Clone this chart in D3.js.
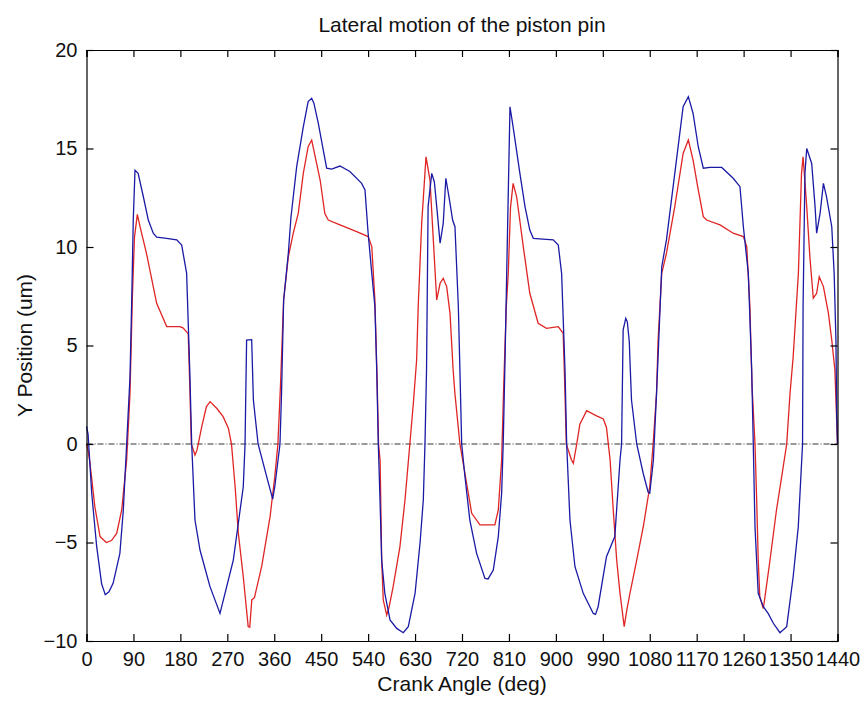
<!DOCTYPE html>
<html>
<head>
<meta charset="utf-8">
<script src="https://cdn.jsdelivr.net/npm/d3@7"></script>
<style>
  html, body { margin: 0; padding: 0; background: #fff; }
  svg { display: block; font-family: "Liberation Sans", Arial, Helvetica, sans-serif; }
</style>
</head>
<body>
<svg id="chart" width="864" height="702"></svg>
<script>
// ---- data ----
const titleText = "Lateral motion of the piston pin";
const xLabel = "Crank Angle (deg)";
const yLabel = "Y Position (um)";
const xTicks = [0, 90, 180, 270, 360, 450, 540, 630, 720, 810, 900, 990, 1080, 1170, 1260, 1350, 1440];
const yTicks = [-10, -5, 0, 5, 10, 15, 20];

const blueAngle = [0,3,10,19.5,29,36,43,51,64,70.6,77,83.4,86.6,89.7,93,99,109,118.5,128,134.5,150,173,182.5,192,198,201.7,208,217.6,236.8,256,281.5,300.6,304,307,316.7,320,329,345.5,357,361,371,374,378,387,392,403,415.7,425,431.8,436,444.5,454,460.5,470,486,505,527.6,534,540,547,553,556.5,559.5,562.8,566,572,582,594.8,607.4,617,630,639.5,645.8,649,652,655,662,667,671.5,678,684,689,696,702,706.5,713,716,719.4,725.7,735,748,764,770,780,789.6,796,799,802.5,805.7,812,818,831,840.8,850,856.7,875,895,904.6,911,917.5,920.7,927,936.6,952.5,971.7,976,981,997,1013,1023,1026,1029,1034,1037,1040.8,1042,1045,1055,1067.6,1077,1080,1087,1093,1096,1103,1112,1128,1144,1154,1163,1173,1182.7,1195.5,1218,1240,1253,1259.5,1269,1275.5,1278.5,1281.8,1288,1297.7,1307,1317,1329.7,1342.6,1355,1364.8,1373,1374,1377.6,1381,1390.5,1397,1400,1406.6,1413,1419,1429,1433.6,1437,1438.5,1440];
const blueY = [0.9,0.5,-2.5,-5.2,-7.1,-7.65,-7.5,-7.07,-5.55,-3.35,0,3.4,7.14,11.4,13.9,13.74,12.55,11.37,10.7,10.5,10.45,10.36,10.1,8.66,3.76,0,-3.86,-5.38,-7.24,-8.6,-5.89,-2.17,0,5.28,5.3,2.23,0,-1.66,-2.8,-2.17,0,2.6,7.3,9.68,11.5,14.08,16.1,17.38,17.55,17.3,16.28,14.92,14.0,13.95,14.11,13.83,13.23,12.9,10.7,8.66,6.97,3.76,0,-2.84,-5.89,-7.58,-8.93,-9.36,-9.58,-9.27,-7.58,-5.04,-2.84,0,3.76,12.05,13.74,13.3,12.05,10.19,11.2,13.49,12.39,11.37,11.03,6.97,3.76,0,-1.66,-3.86,-5.55,-6.82,-6.85,-6.4,-4.7,-2.5,0,4.26,8.66,17.12,16.1,13.74,12.05,10.86,10.44,10.4,10.36,10.1,8.66,3.76,0,-3.86,-6.23,-7.58,-8.6,-8.65,-8.26,-5.72,-4.7,-0.81,0,5.79,6.38,6.2,5.19,4.26,2.23,0,-1.51,-2.45,-2.5,-0.81,2.57,4.43,9.0,10.36,13.74,17.12,17.63,16.79,15.09,14.0,14.04,14.04,13.49,13.06,11.03,8.66,3.76,0,-4.2,-7.58,-8.26,-8.6,-9.1,-9.58,-9.27,-6.74,-4.2,0,6.97,13.74,15.0,14.24,12.05,10.7,11.71,13.23,12.55,11.03,8.66,5.28,1.35,0];

const redAngle = [0,3,6.7,16,26,38,48,58,67.5,77,83.4,88,92,97.5,103,115,134.5,153.8,179,185,195,198,201,208,212,221,230,237,250,262,272,278,285,291,300.6,310,313,317,322,336,352,361,367,372,378,387,396.5,406,415.7,425,431.8,448,457,463.6,486,518,540,547,553,557,560,563,566,569,575.6,580,588,601,610.7,620,626.6,633,636,642.7,651,658.6,665,671.5,678,684,690.6,697,703,706.5,716,725.7,738.6,754.5,783,789.6,796,800,805,808.7,813,818,824.8,837.5,850,866,882,904.6,914,917,920,930,933.5,940,946,959,978,991,997,1004,1010,1016.6,1023,1031,1036,1042,1055,1067.6,1080,1086.5,1093,1096,1103,1112,1128,1144,1154,1163,1173,1182.7,1189,1214.7,1240,1259.5,1266,1272,1276,1281.8,1285,1288,1291,1297.7,1301,1310.6,1323,1333,1342.6,1349,1355,1365,1371,1374,1381,1387,1393.6,1400,1405,1413,1422.6,1429,1435,1438,1440];
const redY = [0,-0.3,-0.98,-3.18,-4.7,-5.0,-4.9,-4.53,-3.35,-0.81,2.57,7.5,10.5,11.66,11.0,9.68,7.14,5.96,5.96,5.9,5.6,3,0,-0.56,-0.3,0.88,1.9,2.15,1.8,1.39,0.8,0,-2.17,-4.5,-6.74,-9.27,-9.3,-7.9,-7.8,-6.2,-3.69,-1.66,0,3,7.31,9.51,10.7,11.71,13.74,15.09,15.43,13.4,11.7,11.37,11.12,10.78,10.53,10.02,7.31,3.5,0,-0.85,-5.89,-7.92,-8.68,-8.3,-7.24,-5.21,-2.84,0,2.03,4.26,6.97,11.2,14.58,13.4,10.36,7.31,8.16,8.41,7.99,6.63,3.76,2.54,0,-1.51,-3.52,-4.11,-4.11,-3.35,-0.81,3,7,8.66,12,13.23,12.55,10.02,7.65,6.13,5.87,5.96,5.62,3,0,-0.81,-0.98,0,1.0,1.69,1.43,1.27,0.84,-0.81,-3.35,-5.89,-7.58,-9.27,-8.43,-7.58,-5.89,-4.2,-2.17,0,2.57,5.28,8.66,9.68,12.05,14.75,15.43,14.42,12.9,11.54,11.37,11.12,10.7,10.53,10.02,7,3,0,-2.84,-5.89,-7.75,-8.35,-7.75,-5.89,-3.35,-1.66,0,2.57,4.43,8.66,13.74,14.58,12.05,9.51,7.4,7.65,8.49,7.99,6.63,5.28,3.76,1.5,0];

// ---- layout ----
const svg = d3.select("#chart");
const margin = { left: 86.5, right: 864 - 837.5, top: 50, bottom: 702 - 641 };
const W = 864, H = 702;
const x = d3.scaleLinear().domain([0, 1440]).range([margin.left, W - margin.right]);
const y = d3.scaleLinear().domain([-10, 20]).range([H - margin.bottom, margin.top]);

const blueData = blueAngle.map((a, i) => [a, blueY[i]]);
const redData = redAngle.map((a, i) => [a, redY[i]]);

const line = d3.line().x(d => x(d[0])).y(d => y(d[1]));

// zero reference line (dash-dot)
svg.append("line")
  .attr("x1", x(0)).attr("x2", x(1440))
  .attr("y1", y(0)).attr("y2", y(0))
  .attr("stroke", "#333").attr("stroke-width", 1)
  .attr("stroke-dasharray", "6,2,1,2");

// series
svg.append("path").datum(redData).attr("d", line)
  .attr("fill", "none").attr("stroke", "#e02424").attr("stroke-width", 1.3);
svg.append("path").datum(blueData).attr("d", line)
  .attr("fill", "none").attr("stroke", "#1a1aa6").attr("stroke-width", 1.3);

// axes (ticks inward, box)
const tickLen = 7;
const fs = 20;
const gB = svg.append("g").attr("transform", `translate(0,${y(-10)})`)
  .call(d3.axisBottom(x).tickValues(xTicks).tickSize(-tickLen).tickPadding(11).tickFormat(d3.format("d")));
const gT = svg.append("g").attr("transform", `translate(0,${y(20)})`)
  .call(d3.axisTop(x).tickValues(xTicks).tickSize(-tickLen).tickFormat(""));
const gL = svg.append("g").attr("transform", `translate(${x(0)},0)`)
  .call(d3.axisLeft(y).tickValues(yTicks).tickSize(-tickLen).tickPadding(9).tickFormat(d3.format("d")));
const gR = svg.append("g").attr("transform", `translate(${x(1440)},0)`)
  .call(d3.axisRight(y).tickValues(yTicks).tickSize(-tickLen).tickFormat(""));

[gB, gT, gL, gR].forEach(g => {
  g.select(".domain").attr("stroke", "#000").attr("stroke-width", 1.2);
  g.selectAll(".tick line").attr("stroke", "#000").attr("stroke-width", 1.2);
  g.selectAll(".tick text").attr("fill", "#111").style("font-size", fs + "px")
    .style("font-family", "'Liberation Sans', Arial, sans-serif");
});

// labels
svg.append("text").attr("x", (x(0) + x(1440)) / 2).attr("y", 32)
  .attr("text-anchor", "middle").style("font-size", "21px").attr("fill", "#111")
  .text(titleText);
svg.append("text").attr("x", (x(0) + x(1440)) / 2).attr("y", 691)
  .attr("text-anchor", "middle").style("font-size", "21px").attr("fill", "#111")
  .text(xLabel);
svg.append("text")
  .attr("transform", `translate(32,${(y(-10) + y(20)) / 2}) rotate(-90)`)
  .attr("text-anchor", "middle").style("font-size", "21px").attr("fill", "#111")
  .text(yLabel);
</script>
</body>
</html>
